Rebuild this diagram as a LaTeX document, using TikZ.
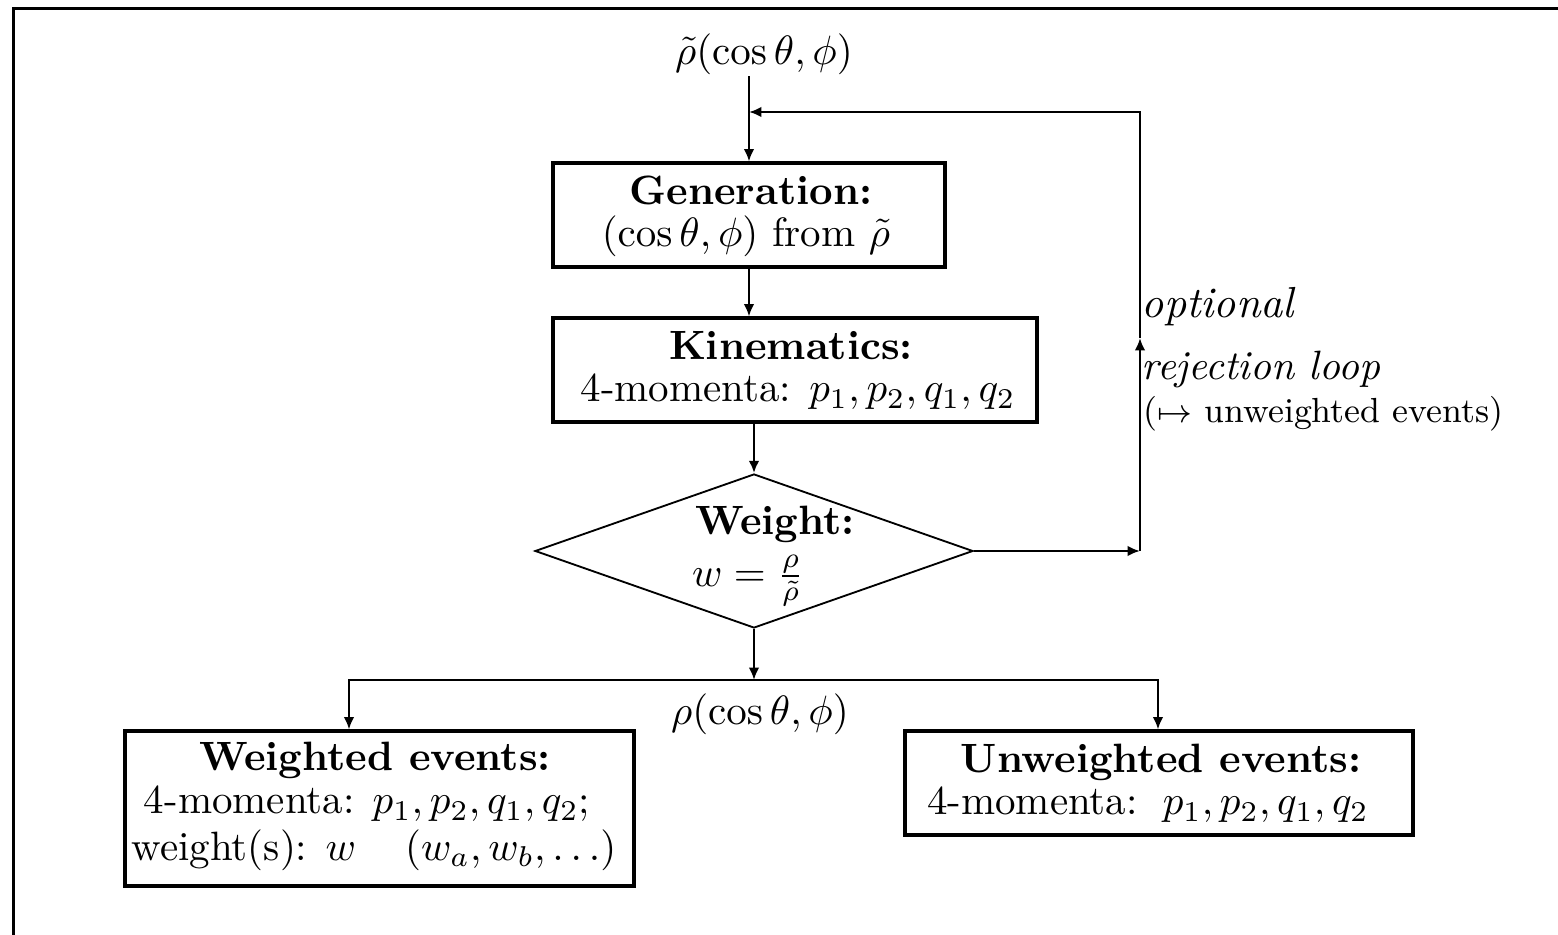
\documentclass[tikz,border=0pt]{standalone}
\usetikzlibrary{arrows.meta,shapes.geometric}
\begin{document}
\begin{tikzpicture}[x=0.244pt,y=-0.244pt,
  box/.style 2 args={draw, line width=0.75pt, inner sep=0pt,
    minimum width=#1*0.244pt, minimum height=#2*0.244pt},
  conn/.style={line width=0.65pt},
  arr/.style={conn, -{Latex[length=3pt,width=2.6pt]}},
  txt/.style={anchor=base, inner sep=0pt},
  ltxt/.style={anchor=base west, inner sep=0pt},
]
\useasboundingbox (0,0) rectangle (1558,935);
% frame
\draw[line width=0.75pt] (13.5,945) -- (13.5,8.3) -- (1570,8.3);

% boxes
\node[box={392}{104}] (gen) at (749,215) {};
\node[box={484}{104}] (kin) at (795,370) {};
\node[draw, diamond, line width=0.45pt, inner sep=0pt,
  minimum width=438*0.244pt, minimum height=154*0.244pt] (wt) at (754,551) {};
\node[box={509}{155}] (wev) at (379.5,808.5) {};
\node[box={508}{104}] (uev) at (1159,783) {};

% texts
\node[txt] (toplbl) at (764,65) {$\tilde\rho(\cos\theta,\phi)$};
\node[txt] (gen1) at (751,205) {\textbf{Generation:}};
\node[txt] (gen2) at (746,247) {$(\cos\theta,\phi)$ from $\tilde\rho$};
\node[txt] (kin1) at (791,360) {\textbf{Kinematics:}};
\node[txt] (kin2) at (798,402) {4-momenta: $p_1,p_2,q_1,q_2$};
\node[txt] (wt1) at (775,535) {\textbf{Weight:}};
\node[txt] (wt2) at (748,586) {$w=\frac{\rho}{\tilde\rho}$};
\node[txt] (rholbl) at (760,724) {$\rho(\cos\theta,\phi)$};
\node[ltxt] (opt1) at (1141,318) {\fontsize{10.6}{12}\selectfont\textit{optional}};
\node[ltxt] (opt2) at (1141,380) {\textit{rejection loop}};
\node[ltxt] (opt3) at (1143,423) {\fontsize{8.5}{10}\selectfont($\mapsto$ unweighted events)};
\node[txt] (wev1) at (375,771) {\textbf{Weighted events:}};
\node[txt] (wev2) at (367,814) {4-momenta: $p_1,p_2,q_1,q_2$;};
\node[txt] (wev3) at (374,860) {weight(s): $w$\hspace{12pt}$(w_a,w_b,\ldots)$};
\node[txt] (uev1) at (1161,773) {\textbf{Unweighted events:}};
\node[txt] (uev2) at (1148,815) {4-momenta: \,$p_1,p_2,q_1,q_2$};

% connectors
\coordinate (loopR) at (1140,551);
\coordinate (loopM) at (1140,338);
\coordinate (loopT) at (1140,112);
\coordinate (split) at (754,680);
\coordinate (splitL) at (349,680);
\coordinate (splitR) at (1158,680);

\draw[arr] (toplbl.south -| gen.north) -- (gen.north);
\draw[arr] (gen.south) -- (gen.south |- kin.north);
\draw[arr] (kin.south -| wt.north) -- (wt.north);
\draw[arr] (wt.east) -- (loopR);
\draw[arr] (loopR) -- (loopM);
\draw[arr] (loopM) -- (loopT) -- (loopT -| gen.north);
\draw[arr] (wt.south) -- (split);
\draw[arr] (split) -- (splitL) -- (splitL |- wev.north);
\draw[arr] (split) -- (splitR) -- (splitR |- uev.north);
\end{tikzpicture}
\end{document}
